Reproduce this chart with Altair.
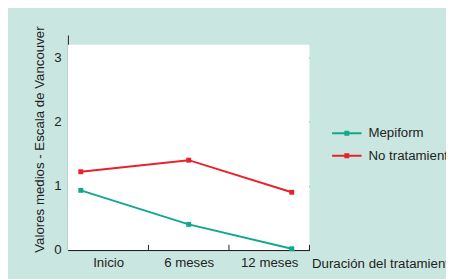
import altair as alt
import pandas as pd

categories = ["Inicio", "6 meses", "12 meses"]
x_pos = [0.16, 1.5, 2.78]          # point positions (band units)
series_names = ["Mepiform", "No tratamiento"]
mepiform = [0.93, 0.40, 0.02]
no_trat = [1.22, 1.40, 0.90]
colors = ["#12a88c", "#e8222b"]
label_pos = [0.5, 1.5, 2.5]
tick_pos = [1, 2, 3]
y_ticks = [0, 1, 2, 3]

rows = []
for name, vals in zip(series_names, [mepiform, no_trat]):
    for c, xp, v in zip(categories, x_pos, vals):
        rows.append({"serie": name, "cat": c, "x": xp, "y": v})
df = pd.DataFrame(rows)
ticks_df = pd.DataFrame({"x": tick_pos, "y": [0] * len(tick_pos), "y2": [0.08] * len(tick_pos)})

W, H = 246, 219
FS = 13.5
FONT = "Liberation Sans"
TXT = "#222"
xs = alt.Scale(domain=[0, 3], nice=False, zero=False)
ys = alt.Scale(domain=[0, 3.35], nice=False, zero=False)
label_expr = "datum.value < 1 ? '%s' : datum.value < 2 ? '%s' : '%s'" % tuple(categories)

x_axis = alt.Axis(values=label_pos, labelExpr=label_expr, ticks=False, grid=False,
                  domainColor="#222", domainWidth=1, labelFontSize=FS, labelColor=TXT,
                  labelFont=FONT, labelPadding=6,
                  title="Duración del tratamiento", titleFont=FONT,
                  titleFontSize=FS, titleFontWeight="normal", titleColor=TXT,
                  titleAlign="left", titleAnchor="start", titleX=248, titleY=14,
                  titleBaseline="middle")
y_axis = alt.Axis(values=y_ticks, format="d", ticks=False, grid=True, gridColor="#444",
                  gridWidth=1, domainColor="#222", labelFontSize=FS, labelColor=TXT,
                  labelFont=FONT, labelPadding=7,
                  title="Valores medios - Escala de Vancouver", titleFont=FONT,
                  titleFontSize=FS, titleFontWeight="normal", titleColor=TXT,
                  titleAngle=270, titleX=-29, titleY=106, titleBaseline="middle",
                  titleAlign="center")

legend_kw = dict(title=None, orient="none", legendX=268, legendY=84,
                 symbolType="M-1,0H1M-0.1,-0.1H0.1V0.1H-0.1Z",
                 symbolSize=900, symbolStrokeWidth=2,
                 labelFontSize=FS, labelFont=FONT,
                 labelColor=TXT, labelOffset=6, rowPadding=-1, padding=0)

panel = alt.Chart(pd.DataFrame({"a": [0]})).mark_rect(color="white").encode(
    x=alt.value(0), x2=alt.value(W), y=alt.value(10), y2=alt.value(H))

base = alt.Chart(df)
lines = base.mark_line(strokeWidth=2).encode(
    x=alt.X("x:Q", scale=xs, axis=x_axis),
    y=alt.Y("y:Q", scale=ys, axis=y_axis),
    stroke=alt.Stroke("serie:N", scale=alt.Scale(domain=series_names, range=colors),
                      legend=alt.Legend(**legend_kw)),
    detail="serie:N",
)
points = base.mark_square(size=25, opacity=1).encode(
    x=alt.X("x:Q", scale=xs),
    y=alt.Y("y:Q", scale=ys),
    fill=alt.Fill("serie:N", scale=alt.Scale(domain=series_names, range=colors),
                  legend=alt.Legend(**legend_kw)),
)
inner_ticks = alt.Chart(ticks_df).mark_rule(color="#222", strokeWidth=1).encode(
    x=alt.X("x:Q", scale=xs), y=alt.Y("y:Q", scale=ys), y2="y2:Q")

chart = alt.layer(panel, inner_ticks, lines, points).properties(
    width=W, height=H,
    autosize=alt.AutoSizeParams(type="none"),
    padding={"left": 61, "top": 25, "right": 139, "bottom": 27},
    background="#c9e7e0",
).configure_view(stroke=None, fill=None)

chart.save("out.html", embed_options={"renderer": "svg", "actions": False})
